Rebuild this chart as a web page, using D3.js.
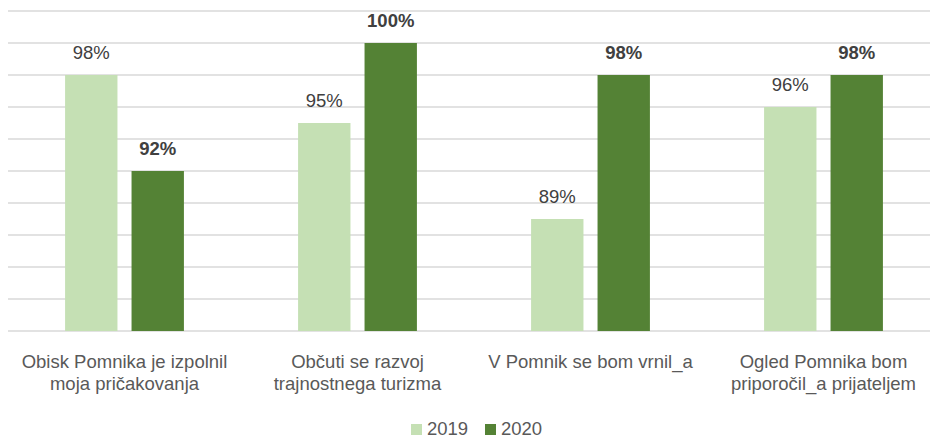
<!DOCTYPE html>
<html>
<head>
<meta charset="utf-8">
<script src="https://cdn.jsdelivr.net/npm/d3@7"></script>
<style>
  body { margin: 0; background: #fff; }
  svg { display: block; font-family: "Liberation Sans", Arial, sans-serif; }
</style>
</head>
<body>
<svg></svg>
<script>
let categories = [
    ["Obisk Pomnika je izpolnil", "moja pričakovanja"],
    ["Občuti se razvoj", "trajnostnega turizma"],
    ["V Pomnik se bom vrnil_a"],
    ["Ogled Pomnika bom", "priporočil_a prijateljem"]
];
let seriesNames = ["2019", "2020"];
let values2019 = [98, 95, 89, 96];
let values2020 = [92, 100, 98, 98];
let gridTicks = [82, 84, 86, 88, 90, 92, 94, 96, 98, 100, 102];

let svgWidth = 930, svgHeight = 440;
let plotLeft = 8, plotRight = 940, plotTop = 11, plotBottom = 331;
let colors = ["#C5E0B4", "#548235"];
let fontSize = 18.5;

let svg = d3.select("svg")
    .attr("width", svgWidth)
    .attr("height", svgHeight);

// Scales
let x0 = d3.scaleBand()
    .domain(d3.range(categories.length))
    .range([plotLeft, plotRight])
    .paddingInner(0.49)
    .paddingOuter(0.245);

let x1 = d3.scaleBand()
    .domain(seriesNames)
    .range([0, x0.bandwidth()])
    .paddingInner(0.212);

let yScale = d3.scaleLinear()
    .domain([82, 102])
    .range([plotBottom, plotTop]);

// Gridlines
svg.append("g")
    .selectAll("line")
    .data(gridTicks)
    .enter()
    .append("line")
    .attr("x1", plotLeft)
    .attr("x2", svgWidth)
    .attr("y1", d => yScale(d))
    .attr("y2", d => yScale(d))
    .attr("stroke", "#D9D9D9")
    .attr("stroke-width", 1.4);

// Bars
let rows = categories.map((c, i) => ({
    i: i,
    vals: [values2019[i], values2020[i]]
}));

let groups = svg.selectAll("g.group")
    .data(rows)
    .enter()
    .append("g")
    .attr("class", "group")
    .attr("transform", d => `translate(${x0(d.i)},0)`);

groups.selectAll("rect")
    .data(d => d.vals.map((v, k) => ({ key: seriesNames[k], k: k, v: v })))
    .enter()
    .append("rect")
    .attr("x", d => x1(d.key))
    .attr("y", d => yScale(d.v))
    .attr("width", x1.bandwidth())
    .attr("height", d => yScale(82) - yScale(d.v))
    .attr("fill", d => colors[d.k]);

// Data labels
groups.selectAll("text")
    .data(d => d.vals.map((v, k) => ({ key: seriesNames[k], k: k, v: v })))
    .enter()
    .append("text")
    .attr("x", d => x1(d.key) + x1.bandwidth() / 2)
    .attr("y", d => yScale(d.v) - 16)
    .attr("text-anchor", "middle")
    .attr("font-size", fontSize)
    .attr("font-weight", d => d.k === 1 ? "bold" : "normal")
    .attr("fill", "#404040")
    .text(d => d.v + "%");

// Category labels
let catLabels = svg.append("g")
    .selectAll("text")
    .data(categories)
    .enter()
    .append("text")
    .attr("x", (d, i) => x0(i) + x0.bandwidth() / 2)
    .attr("y", 368)
    .attr("text-anchor", "middle")
    .attr("font-size", fontSize)
    .attr("fill", "#595959");

catLabels.selectAll("tspan")
    .data(d => d)
    .enter()
    .append("tspan")
    .attr("x", function() { return this.parentNode.getAttribute("x"); })
    .attr("dy", (d, i) => i === 0 ? 0 : 22)
    .text(d => d);

// Legend
let legend = svg.append("g")
    .attr("transform", "translate(411, 0)");

let legendItems = legend.selectAll("g")
    .data(seriesNames)
    .enter()
    .append("g")
    .attr("transform", (d, i) => `translate(${i * 74}, 0)`);

legendItems.append("rect")
    .attr("x", 0)
    .attr("y", 424)
    .attr("width", 11)
    .attr("height", 11)
    .attr("fill", (d, i) => colors[i]);

legendItems.append("text")
    .attr("x", 16)
    .attr("y", 435)
    .attr("font-size", fontSize)
    .attr("fill", "#595959")
    .text(d => d);
</script>
</body>
</html>
